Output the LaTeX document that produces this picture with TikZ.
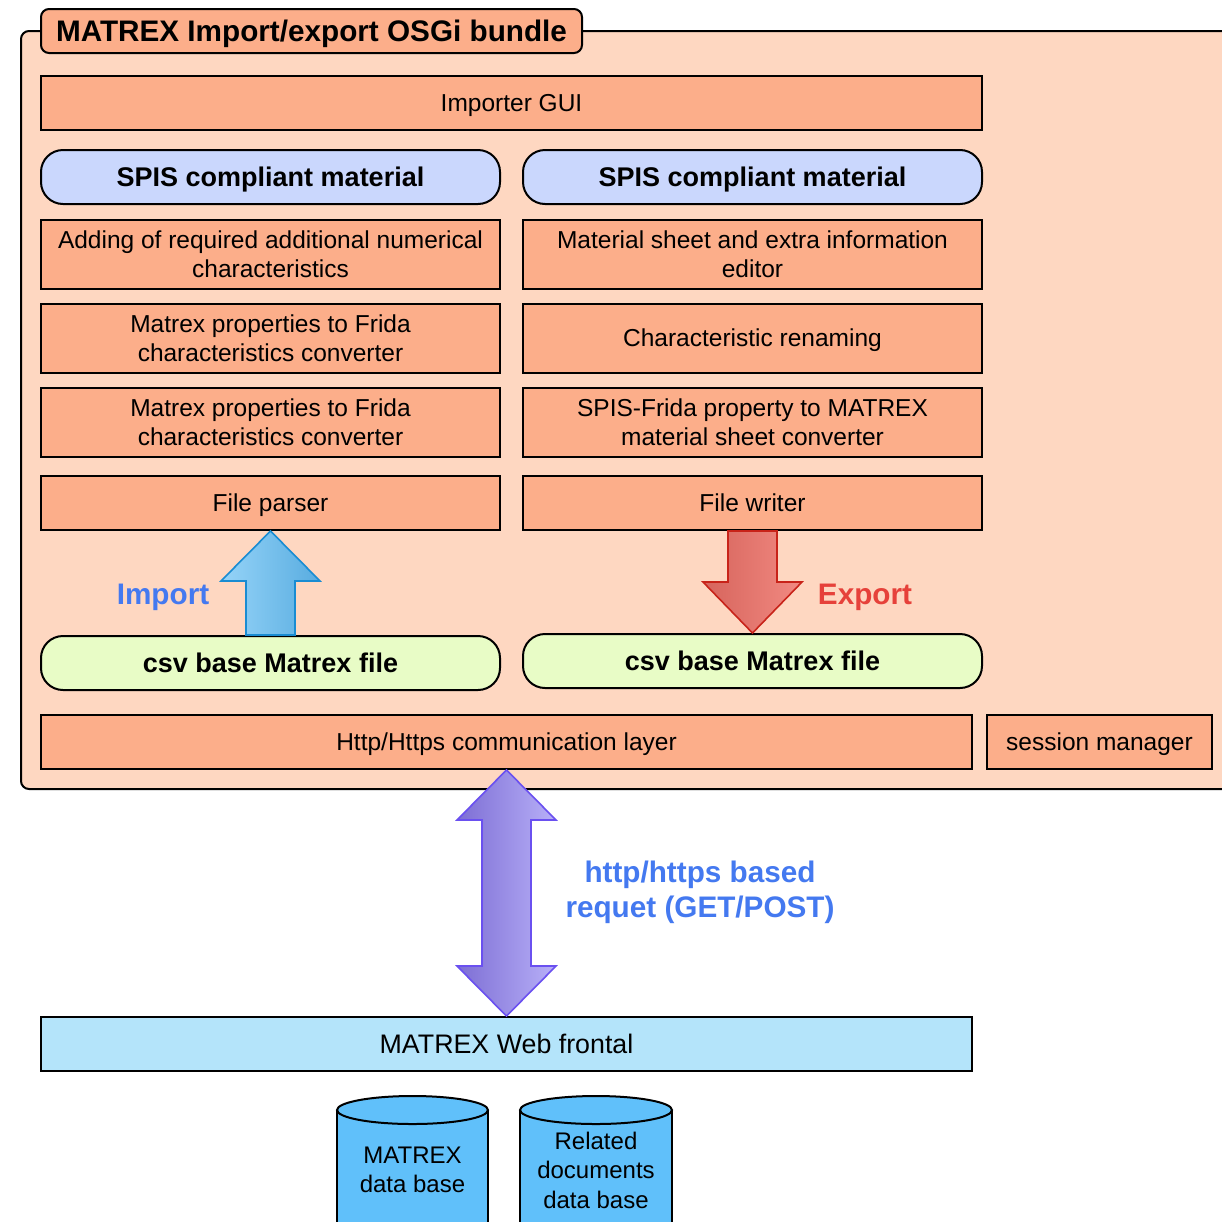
\documentclass[tikz,border=0pt]{standalone}
\usepackage{fontspec}
\setmainfont{Liberation Sans}
\usetikzlibrary{calc}
\definecolor{outerfill}{RGB}{254,215,193}
\definecolor{boxfill}{RGB}{252,174,138}
\definecolor{spisfill}{RGB}{202,215,253}
\definecolor{csvfill}{RGB}{232,252,198}
\definecolor{webfill}{RGB}{180,228,250}
\definecolor{dbfill}{RGB}{96,192,250}
\definecolor{bluetext}{RGB}{68,121,240}
\definecolor{redtext}{RGB}{230,65,58}
\definecolor{impA}{RGB}{150,212,248}
\definecolor{impB}{RGB}{88,172,224}
\definecolor{impline}{RGB}{25,140,210}
\definecolor{expA}{RGB}{214,100,92}
\definecolor{expB}{RGB}{242,138,130}
\definecolor{expline}{RGB}{200,35,25}
\definecolor{httpA}{RGB}{125,110,212}
\definecolor{httpB}{RGB}{184,176,248}
\definecolor{httpline}{RGB}{106,80,240}
\begin{document}
\begin{tikzpicture}[x=1pt,y=-1pt,line width=2pt,
  bx/.style 2 args={draw=black,fill=boxfill,minimum width=#1pt,minimum height=#2pt,
    inner sep=0pt,align=center,font=\fontsize{24.5}{29.5}\selectfont},
  sl/.style={text depth=0pt},
  roundbx/.style 2 args={bx={#1}{#2},rounded corners=22pt,font=\fontsize{27}{32}\selectfont\bfseries},
  biglabel/.style={font=\fontsize{29.7}{35}\selectfont\bfseries,align=center,inner sep=0pt},
  dbtext/.style={font=\fontsize{24}{29.5}\selectfont,align=center,inner sep=0pt}]
\useasboundingbox (0,0) rectangle (1222,1221);
\clip (0,0) rectangle (1222,1221);
\fill[white] (0,0) rectangle (1222,1221);
% outer bundle box
\draw[fill=outerfill,rounded corners=8pt] (21,31) rectangle (1260,789);
\node[bx={541}{44},sl,rounded corners=8pt,font=\fontsize{29.7}{35}\selectfont\bfseries] (title) at (311.5,31) {MATREX Import/export OSGi bundle};
\node[bx={941}{54},sl] (gui) at (511.5,103) {Importer GUI};
\node[roundbx={459}{54},sl,fill=spisfill] (spisL) at (270.5,177) {SPIS compliant material};
\node[roundbx={459}{54},sl,fill=spisfill] (spisR) at (752.5,177) {SPIS compliant material};
\node[bx={459}{69}] (r1L) at (270.5,254) {Adding of required additional numerical\\characteristics};
\node[bx={459}{69}] (r1R) at (752.5,254) {Material sheet and extra information\\editor};
\node[bx={459}{69}] (r2L) at (270.5,338) {Matrex properties to Frida\\characteristics converter};
\node[bx={459}{69},sl] (r2R) at (752.5,338) {Characteristic renaming};
\node[bx={459}{69}] (r3L) at (270.5,422) {Matrex properties to Frida\\characteristics converter};
\node[bx={459}{69}] (r3R) at (752.5,422) {SPIS-Frida property to MATREX\\material sheet converter};
\node[bx={459}{54},sl] (parser) at (270.5,503) {File parser};
\node[bx={459}{54},sl] (writer) at (752.5,503) {File writer};
\node[roundbx={459}{54},sl,fill=csvfill] (csvL) at (270.5,663) {csv base Matrex file};
\node[roundbx={459}{54},sl,fill=csvfill] (csvR) at (752.5,661) {csv base Matrex file};
\node[bx={931}{54},sl] (http) at (506.5,742) {Http/Https communication layer};
\node[bx={225}{54},sl] (session) at (1099.5,742) {session manager};
\node[bx={931}{54},sl,fill=webfill,font=\fontsize{26.8}{32}\selectfont] (web) at (506.5,1044) {MATREX Web frontal};
% labels
\node[biglabel,text=bluetext] (implabel) at (163,597) {Import};
\node[biglabel,text=redtext] (explabel) at (865,597) {Export};
\node[biglabel,text=bluetext] (httplabel) at (700,892) {http/https based\\requet (GET/POST)};
% import arrow
\path[draw=impline,line width=1.6pt,left color=impA,right color=impB,line join=miter]
  (parser.south) -- ($(parser.south)+(49.5,50)$) -- ($(parser.south)+(24.5,50)$)
  -- ($(csvL.north)+(24.5,0)$) -- ($(csvL.north)+(-24.5,0)$)
  -- ($(parser.south)+(-24.5,50)$) -- ($(parser.south)+(-49.5,50)$) -- cycle;
% export arrow
\path[draw=expline,line width=1.6pt,left color=expA,right color=expB,line join=miter]
  (csvR.north) -- ($(csvR.north)+(49.5,-51)$) -- ($(csvR.north)+(24.5,-51)$)
  -- ($(writer.south)+(24.5,0)$) -- ($(writer.south)+(-24.5,0)$)
  -- ($(csvR.north)+(-24.5,-51)$) -- ($(csvR.north)+(-49.5,-51)$) -- cycle;
% http double arrow
\path[draw=httpline,line width=1.6pt,left color=httpA,right color=httpB,line join=miter]
  (http.south) -- ($(http.south)+(49.5,50)$) -- ($(http.south)+(24.5,50)$)
  -- ($(web.north)+(24.5,-50)$) -- ($(web.north)+(49.5,-50)$) -- (web.north)
  -- ($(web.north)+(-49.5,-50)$) -- ($(web.north)+(-24.5,-50)$)
  -- ($(http.south)+(-24.5,50)$) -- ($(http.south)+(-49.5,50)$) -- cycle;
% databases
\fill[dbfill] (337,1110) rectangle (488,1240);
\draw (337,1110) -- (337,1240) (488,1110) -- (488,1240);
\draw[fill=dbfill] (412.5,1110) ellipse [x radius=75.5,y radius=14];
\node[dbtext] (db1) at (412.5,1170) {MATREX\\data base};
\fill[dbfill] (520,1110) rectangle (672,1240);
\draw (520,1110) -- (520,1240) (672,1110) -- (672,1240);
\draw[fill=dbfill] (596,1110) ellipse [x radius=76,y radius=14];
\node[dbtext] (db2) at (596,1170) {Related\\documents\\data base};
\end{tikzpicture}
\end{document}
